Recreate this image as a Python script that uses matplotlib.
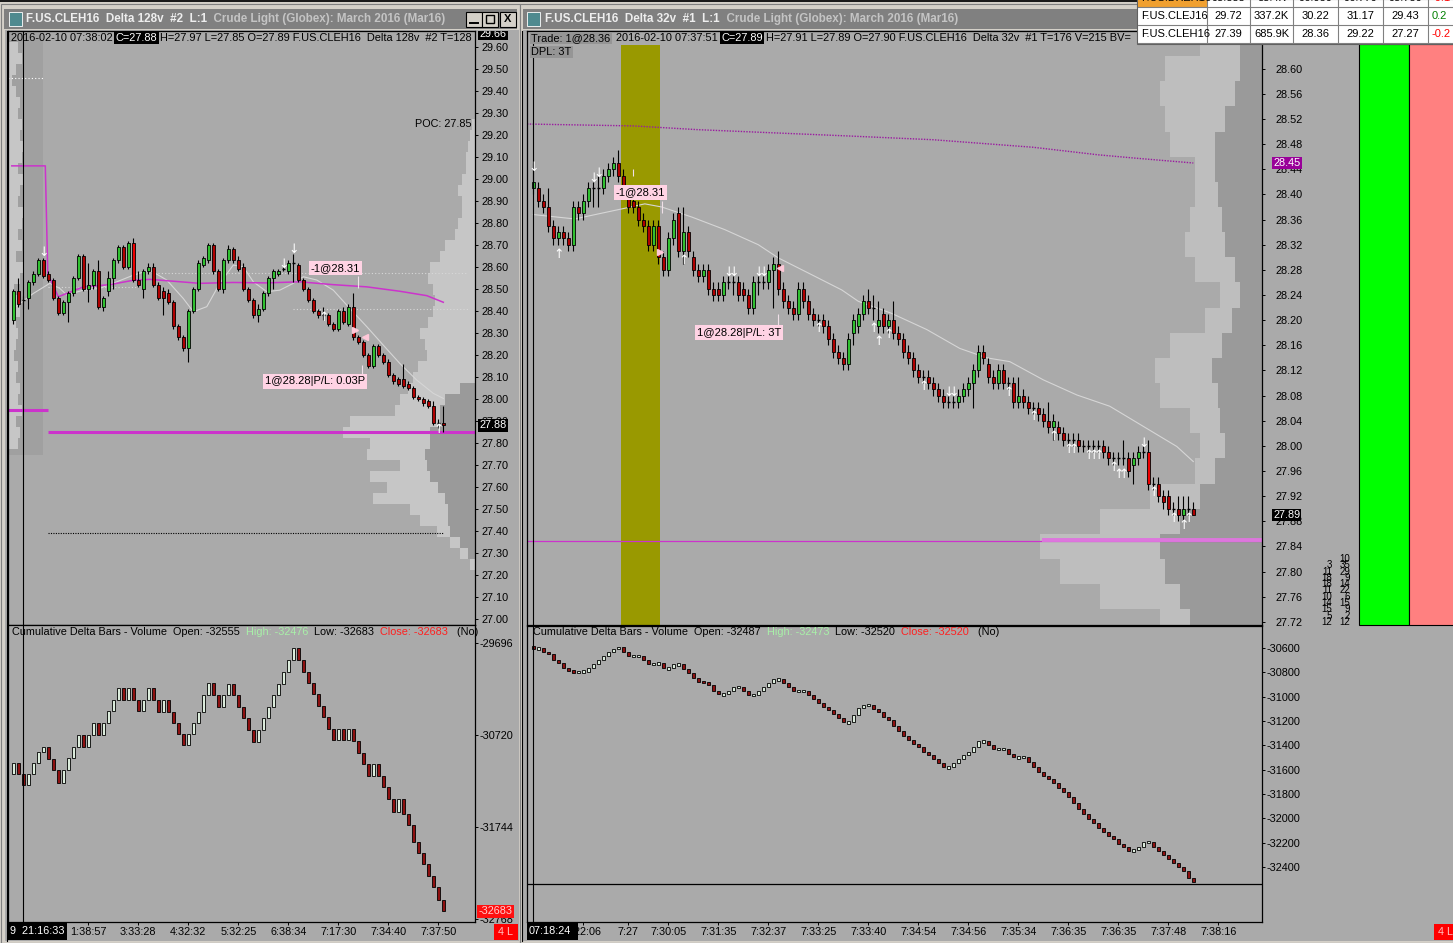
import matplotlib
matplotlib.use('Agg')
import matplotlib.pyplot as plt
from matplotlib.patches import Rectangle
from matplotlib.transforms import Bbox
import numpy as np

plt.rcParams['font.family'] = ['Liberation Sans', 'DejaVu Sans']
plt.rcParams['font.size'] = 7.5

# ------------------------------------------------------------------ data
# left chart (Delta 128v) price bars
L_open = [28.36,28.49,28.45,28.46,28.53,28.57,28.63,28.57,28.54,28.46,
          28.39,28.44,28.48,28.55,28.65,28.50,28.52,28.58,28.42,28.49,
          28.55,28.63,28.69,28.60,28.71,28.54,28.50,28.58,28.60,28.52,
          28.49,28.48,28.44,28.33,28.28,28.23,28.40,28.50,28.61,28.63,
          28.70,28.58,28.50,28.63,28.68,28.63,28.60,28.50,28.45,28.38,
          28.41,28.48,28.55,28.57,28.59,28.58,28.62,28.61,28.54,28.50,
          28.45,28.40,28.38,28.38,28.34,28.32,28.40,28.34,28.42,28.28,
          28.26,28.20,28.15,28.24,28.20,28.17,28.11,28.09,28.09,28.07,
          28.05,28.01,28.00,27.99,27.97,27.89,27.89]
L_close = [28.49,28.43,28.45,28.53,28.57,28.63,28.56,28.54,28.46,28.39,
           28.44,28.48,28.55,28.65,28.50,28.52,28.58,28.42,28.46,28.55,
           28.63,28.69,28.60,28.71,28.54,28.52,28.58,28.60,28.52,28.46,
           28.46,28.44,28.33,28.28,28.23,28.40,28.50,28.62,28.64,28.70,
           28.58,28.50,28.63,28.68,28.63,28.59,28.50,28.45,28.38,28.41,
           28.48,28.55,28.58,28.58,28.59,28.62,28.62,28.54,28.50,28.45,
           28.40,28.38,28.38,28.34,28.32,28.40,28.35,28.42,28.28,28.26,
           28.20,28.15,28.24,28.20,28.17,28.11,28.08,28.07,28.06,28.05,
           28.01,28.00,27.98,27.97,27.89,27.89,27.88]
L_high = [28.50,28.55,28.47,28.54,28.58,28.64,28.64,28.58,28.55,28.47,
          28.45,28.49,28.56,28.66,28.66,28.62,28.59,28.63,28.47,28.58,
          28.64,28.70,28.70,28.72,28.73,28.58,28.59,28.62,28.62,28.53,
          28.51,28.50,28.45,28.34,28.29,28.41,28.51,28.63,28.65,28.71,
          28.71,28.59,28.64,28.70,28.69,28.65,28.62,28.51,28.46,28.43,
          28.49,28.56,28.59,28.59,28.60,28.63,28.66,28.62,28.55,28.51,
          28.46,28.41,28.42,28.39,28.35,28.41,28.42,28.43,28.48,28.29,
          28.27,28.21,28.25,28.25,28.21,28.18,28.12,28.10,28.16,28.08,
          28.06,28.02,28.01,28.00,27.99,27.91,27.97]
L_low = [28.34,28.42,28.41,28.41,28.52,28.56,28.55,28.53,28.45,28.38,
         28.38,28.35,28.47,28.54,28.49,28.44,28.50,28.41,28.40,28.47,
         28.50,28.62,28.59,28.59,28.53,28.51,28.46,28.57,28.51,28.45,
         28.38,28.43,28.32,28.27,28.22,28.17,28.39,28.49,28.60,28.62,
         28.57,28.49,28.48,28.62,28.62,28.58,28.49,28.44,28.37,28.35,
         28.40,28.47,28.50,28.56,28.58,28.57,28.53,28.53,28.49,28.44,
         28.39,28.37,28.36,28.33,28.31,28.31,28.34,28.33,28.27,28.25,
         28.19,28.14,28.14,28.19,28.16,28.10,28.07,28.06,28.05,28.04,
         28.00,27.99,27.97,27.96,27.88,27.87,27.85]

# left cumulative delta closes
L_cd_first_open = -31154
L_cd = [-31028,-31154,-31276,-31154,-31028,-30905,-30850,-30991,-31110,-31250,
        -31110,-30980,-30850,-30720,-30850,-30720,-30590,-30720,-30590,-30449,
        -30330,-30201,-30330,-30201,-30330,-30449,-30330,-30201,-30330,-30460,
        -30330,-30460,-30583,-30709,-30831,-30709,-30583,-30460,-30275,-30145,
        -30275,-30412,-30275,-30152,-30275,-30412,-30534,-30664,-30794,-30664,
        -30534,-30412,-30275,-30152,-30015,-29885,-29755,-29885,-30015,-30145,
        -30264,-30397,-30523,-30657,-30776,-30657,-30776,-30657,-30783,-30917,
        -31043,-31176,-31043,-31176,-31302,-31436,-31573,-31436,-31599,-31722,
        -31907,-32037,-32159,-32289,-32408,-32555,-32683]

# left chart lines
L_vwap_x = [-0.3, 6.4, 6.9, 9, 14, 19.3, 24, 27.3, 30.7, 37.3, 44, 50.7, 57.3, 64, 70.7, 77.3, 82.7, 86]
L_vwap_y = [29.06, 29.06, 28.57, 28.465, 28.51, 28.52, 28.54, 28.544, 28.538, 28.526, 28.53,
            28.528, 28.533, 28.52, 28.51, 28.49, 28.47, 28.44]
L_ma_x = [0,4,7.3,9.3,10.7,14,17.3,20.7,24,27.3,30.7,34,36,38.7,41.3,44,46,48,50.7,53.3,56,58,60.7,64,
          67.3,70.7,74,77.3,80.7,84,86]
L_ma_y = [28.412,28.480,28.526,28.503,28.473,28.495,28.503,28.533,28.563,28.586,28.541,28.457,28.397,
          28.420,28.526,28.609,28.601,28.533,28.488,28.495,28.526,28.556,28.541,28.495,28.412,28.329,
          28.245,28.162,28.086,28.026,28.003]
L_dn_arrows = [(6, 28.664), (54, 28.61), (56, 28.68)]
L_up_arrows = [(62, 28.37), (85, 27.86)]

# left volume profiles (price levels, volumes)
LP_price = [29.25,29.20,29.15,29.10,29.05,29.00,28.95,28.90,28.85,28.80,28.75,28.70,28.65,28.60,
            28.55,28.50,28.45,28.40,28.35,28.30,28.25,28.20,28.15,28.10,28.05,28.00,27.95,27.90,
            27.85,27.80,27.75,27.70,27.65,27.60,27.55,27.50,27.45,27.40,27.35,27.30,27.25]
LP_total = [3,5,7,9,9,13,17,13,13,17,20,30,35,45,47,42,40,42,47,55,50,48,57,62,67,75,80,125,
            132,105,108,75,105,88,102,65,55,38,25,15,5]
LP_side = [0,0,0,0,0,0,0,0,0,0,0,0,0,0,0,0,0,0,0,0,0,0,0,0,15,30,35,35,45,45,50,48,45,37,30,
           27,27,25,15,7,0]
LS_price = [29.60,29.55,29.50,29.45,29.40,29.35,29.30,29.25,29.20,29.15,29.10,29.05,29.00,28.95,
            28.90,28.85,28.80,28.75,28.70,28.65,28.60,28.55,28.50,28.45,28.40,28.35,28.30,28.25,
            28.20,28.15,28.10,28.05,28.00,27.95,27.90,27.85,27.80]
LS_vol = [10,14,8,4,8,12,10,14,12,15,14,10,15,12,10,16,14,10,14,8,16,12,6,10,12,8,10,8,6,10,8,
          12,10,14,8,12,10]

L_times = ['21:16:33', '1:38:57', '3:33:28', '4:32:32', '5:32:25', '6:38:34', '7:17:30', '7:34:40', '7:37:50']
L_time_bars = [7, 15, 25, 35, 45, 55, 65, 75, 85]

# right chart (Delta 32v) price bars
R_open = [28.41,28.41,28.39,28.38,28.35,28.33,28.34,28.33,28.32,28.38,
          28.37,28.39,28.41,28.41,28.41,28.43,28.44,28.45,28.43,28.40,
          28.39,28.38,28.36,28.35,28.32,28.35,28.30,28.28,28.33,28.37,
          28.31,28.34,28.30,28.28,28.27,28.28,28.25,28.25,28.24,28.26,
          28.26,28.26,28.25,28.24,28.22,28.26,28.26,28.26,28.28,28.29,
          28.25,28.23,28.22,28.21,28.25,28.23,28.21,28.20,28.20,28.19,
          28.17,28.15,28.14,28.13,28.18,28.19,28.21,28.23,28.22,28.19,
          28.21,28.19,28.20,28.18,28.17,28.15,28.14,28.12,28.11,28.11,
          28.10,28.09,28.08,28.07,28.07,28.07,28.08,28.09,28.10,28.12,
          28.15,28.13,28.11,28.10,28.12,28.10,28.10,28.07,28.08,28.07,
          28.06,28.06,28.05,28.04,28.03,28.03,28.02,28.01,28.01,28.01,
          28.00,28.00,28.00,28.00,28.00,27.99,27.98,27.98,27.98,27.98,
          27.97,27.98,27.99,27.99,27.94,27.94,27.92,27.92,27.90,27.90,
          27.89,27.90,27.90]
R_close = [28.42,28.39,28.38,28.35,28.33,28.34,28.33,28.32,28.38,28.37,
           28.39,28.41,28.41,28.41,28.43,28.44,28.45,28.43,28.415,28.38,
           28.38,28.36,28.35,28.32,28.35,28.30,28.28,28.33,28.36,28.31,
           28.34,28.31,28.28,28.27,28.28,28.25,28.24,28.24,28.26,28.26,
           28.26,28.24,28.24,28.22,28.26,28.26,28.26,28.28,28.29,28.25,
           28.23,28.22,28.21,28.25,28.23,28.21,28.20,28.20,28.19,28.17,
           28.15,28.14,28.13,28.17,28.20,28.21,28.23,28.22,28.22,28.20,
           28.19,28.20,28.18,28.17,28.15,28.14,28.12,28.11,28.11,28.10,
           28.09,28.08,28.07,28.07,28.07,28.08,28.09,28.10,28.12,28.15,
           28.14,28.11,28.10,28.12,28.10,28.10,28.07,28.08,28.07,28.06,
           28.06,28.05,28.04,28.03,28.04,28.02,28.01,28.01,28.01,28.00,
           28.00,28.00,28.00,28.00,27.99,27.98,27.98,27.98,27.98,27.96,
           27.98,27.99,27.99,27.94,27.94,27.92,27.91,27.90,27.90,27.89,
           27.90,27.90,27.89]
R_high = [28.45,28.42,28.40,28.41,28.36,28.35,28.35,28.34,28.39,28.39,
          28.40,28.42,28.42,28.43,28.44,28.45,28.46,28.47,28.44,28.41,
          28.40,28.39,28.37,28.36,28.36,28.36,28.31,28.34,28.37,28.38,
          28.38,28.35,28.31,28.29,28.29,28.29,28.26,28.26,28.27,28.27,
          28.27,28.27,28.26,28.25,28.27,28.27,28.27,28.29,28.30,28.31,
          28.26,28.24,28.23,28.26,28.26,28.24,28.22,28.21,28.21,28.20,
          28.18,28.16,28.15,28.18,28.21,28.22,28.24,28.25,28.24,28.23,
          28.22,28.21,28.23,28.19,28.18,28.16,28.15,28.13,28.12,28.12,
          28.11,28.10,28.09,28.08,28.08,28.09,28.10,28.11,28.13,28.16,
          28.16,28.14,28.12,28.13,28.13,28.11,28.11,28.11,28.09,28.08,
          28.07,28.07,28.06,28.07,28.05,28.04,28.03,28.02,28.02,28.02,
          28.01,28.01,28.01,28.01,28.01,28.00,27.99,27.99,28.01,27.99,
          27.99,28.00,28.00,28.01,27.95,27.95,27.93,27.93,27.91,27.92,
          27.92,27.92,27.91]
R_low = [28.40,28.38,28.37,28.34,28.32,28.32,28.32,28.31,28.31,28.36,
         28.36,28.38,28.38,28.38,28.40,28.42,28.43,28.42,28.40,28.37,
         28.37,28.35,28.34,28.31,28.31,28.29,28.27,28.27,28.32,28.30,
         28.29,28.30,28.27,28.26,28.26,28.24,28.23,28.23,28.23,28.25,
         28.24,28.23,28.23,28.21,28.21,28.24,28.25,28.25,28.22,28.24,
         28.22,28.21,28.20,28.20,28.22,28.20,28.19,28.19,28.18,28.16,
         28.14,28.13,28.12,28.12,28.16,28.18,28.20,28.21,28.20,28.18,
         28.18,28.18,28.17,28.16,28.14,28.13,28.11,28.10,28.10,28.09,
         28.08,28.07,28.06,28.06,28.06,28.06,28.07,28.08,28.06,28.11,
         28.13,28.10,28.09,28.09,28.09,28.09,28.06,28.06,28.06,28.05,
         28.05,28.04,28.03,28.02,28.01,28.01,28.00,28.00,28.00,27.99,
         27.99,27.99,27.99,27.99,27.98,27.97,27.97,27.97,27.97,27.95,
         27.94,27.97,27.98,27.93,27.93,27.91,27.90,27.89,27.89,27.88,
         27.88,27.89,27.89]

# right cumulative delta closes
R_cd_first_open = -30590
R_cd = [-30603,-30603,-30630,-30652,-30699,-30721,-30767,-30789,-30800,-30795,
        -30795,-30762,-30734,-30699,-30666,-30633,-30606,-30595,-30630,-30666,
        -30666,-30663,-30699,-30732,-30732,-30726,-30767,-30767,-30734,-30734,
        -30775,-30808,-30844,-30877,-30880,-30904,-30954,-30981,-30981,-30951,
        -30923,-30918,-30954,-30986,-30986,-30951,-30918,-30891,-30858,-30858,
        -30891,-30923,-30954,-30954,-30954,-30986,-31019,-31050,-31082,-31110,
        -31145,-31178,-31211,-31211,-31151,-31096,-31069,-31069,-31102,-31129,
        -31165,-31192,-31239,-31280,-31321,-31356,-31389,-31417,-31452,-31480,
        -31515,-31548,-31581,-31581,-31548,-31513,-31480,-31452,-31411,-31367,
        -31367,-31398,-31430,-31430,-31430,-31471,-31499,-31499,-31493,-31535,
        -31576,-31617,-31650,-31680,-31713,-31748,-31781,-31828,-31877,-31924,
        -31967,-32009,-32041,-32077,-32110,-32143,-32173,-32209,-32233,-32266,
        -32261,-32233,-32198,-32192,-32233,-32266,-32302,-32332,-32365,-32398,
        -32430,-32487,-32520]

R_ma_x = [0, 8.3, 18.3, 22.3, 25.7, 31.7, 38.3, 45, 49, 55, 61.7, 65, 71.6, 78.7, 85.3, 90.7, 95.3,
          102, 108.7, 115.3, 122, 128.7, 132]
R_ma_y = [28.368, 28.361, 28.378, 28.385, 28.38, 28.364, 28.344, 28.32, 28.299, 28.275, 28.248, 28.23,
          28.211, 28.185, 28.155, 28.14, 28.134, 28.105, 28.081, 28.063, 28.031, 27.999, 27.975]
R_vwap_x = [-1.26, 20, 33, 63, 80, 100, 113, 120, 132]
R_vwap_y = [28.512, 28.509, 28.503, 28.493, 28.487, 28.475, 28.463, 28.458, 28.45]
R_dn_arrows = [(0, 28.443), (12, 28.426), (13, 28.434), (39, 28.275), (40, 28.275), (45, 28.275),
               (46, 28.275), (83, 28.085), (84, 28.085), (122, 28.004)]
R_up_arrows = [(5, 28.304), (30, 28.295), (57, 28.186), (68, 28.186), (69, 28.166), (71, 28.177),
               (78, 28.095), (95, 28.085), (100, 28.046), (104, 28.015), (107, 27.994), (108, 27.994),
               (111, 27.985), (112, 27.985), (113, 27.985), (116, 27.965), (117, 27.955), (118, 27.955),
               (124, 27.925), (128, 27.885), (130, 27.874), (131, 27.885)]

RP_price = [28.64,28.60,28.56,28.52,28.48,28.44,28.40,28.36,28.32,28.28,28.24,28.20,
            28.16,28.12,28.08,28.04,28.00,27.96,27.92,27.88,27.84,27.80,27.76,27.72]
RP_total = [62,97,102,97,92,67,67,72,77,67,42,57,92,107,102,72,62,67,112,162,222,202,162,102]
RP_side = [22,22,27,37,47,47,44,40,37,27,22,30,40,50,44,42,37,47,62,82,102,97,82,72]

R_vol_col1_price = [27.81,27.80,27.79,27.78,27.77,27.76,27.75,27.74,27.73,27.72]
R_vol_col1 = [3,11,18,18,11,10,14,15,5,12]
R_vol_col2_price = [27.82,27.81,27.80,27.79,27.78,27.77,27.76,27.75,27.74,27.73,27.72]
R_vol_col2 = [10,35,29,9,14,22,6,15,9,2,12]

R_times = ['7:22:06', '7:27', '7:30:05', '7:31:35', '7:32:37', '7:33:25', '7:33:40', '7:34:54',
           '7:34:56', '7:35:34', '7:36:35', '7:36:35', '7:37:48', '7:38:16']
R_time_bars = [10, 19, 27, 37, 47, 57, 67, 77, 87, 97, 107, 117, 127, 137]

TABLE_ROWS = [["F.US.DXEH16", "95.855", "35.4K", "96.030", "96.770", "95.780", "-0.1"],
              ["F.US.CLEJ16", "29.72", "337.2K", "30.22", "31.17", "29.43", "0.2"],
              ["F.US.CLEH16", "27.39", "685.9K", "28.36", "29.22", "27.27", "-0.2"]]

# ------------------------------------------------------------------ figure
W, H = 1453, 943
BG = '#aaaaaa'
FRAME = '#d4d0c8'
fig = plt.figure(figsize=(W / 100, H / 100), dpi=100, facecolor=FRAME)
REND = fig.canvas.get_renderer()


def px_axes(x0, y0, x1, y1, z=1):
    return fig.add_axes([x0 / W, 1 - y1 / H, (x1 - x0) / W, (y1 - y0) / H], zorder=z)


def pixel_layer(z):
    a = fig.add_axes([0, 0, 1, 1], zorder=z)
    a.set_xlim(0, W)
    a.set_ylim(H, 0)
    a.axis('off')
    a.patch.set_alpha(0)
    return a


def rect(ax, x0, y0, x1, y1, fc, ec='none', lw=0, z=1):
    ax.add_patch(Rectangle((x0, y0), x1 - x0, y1 - y0, fc=fc, ec=ec, lw=lw, zorder=z))


def clipbox(x0, y0, x1, y1):
    return Bbox.from_extents(x0, H - y1, x1, H - y0)


def chain(ax, x, y, parts, size=7.5, weight='normal', clip=None):
    for s, col, bgc in parts:
        kw = {}
        if bgc is not None:
            kw['bbox'] = dict(boxstyle='square,pad=0.12', fc=bgc, ec='none')
        t = ax.text(x, y, s, color=col, fontsize=size, fontweight=weight,
                    ha='left', va='center', zorder=30, **kw)
        if clip is not None:
            t.set_clip_box(clip)
            t.set_clip_on(True)
        bb = t.get_window_extent(REND)
        x = bb.x1
    return x


bg = pixel_layer(0)
ov = pixel_layer(20)

# window chrome
rect(bg, 0, 0, 1140, 2, '#1a1a1a')
rect(bg, 1, 4, 520, 943, FRAME, ec='#808080', lw=0.8)
rect(bg, 4, 9, 517, 29, '#808080')
rect(bg, 9, 12, 22, 26, '#4f8a8f', ec='white', lw=0.6)
rect(bg, 5, 30, 519, 941, BG)
rect(bg, 520, 4, W, 943, FRAME, ec='#808080', lw=0.8)
rect(bg, 523, 9, W, 29, '#808080')
rect(bg, 527, 12, 540, 26, '#4f8a8f', ec='white', lw=0.6)
rect(bg, 523, 30, W, 941, BG)
bg.plot([6.5, 6.5], [31, 941], color='black', lw=0.8, zorder=3)
bg.plot([522, 522], [31, 941], color='black', lw=0.8, zorder=3)
for bx0 in (466, 482, 500):
    rect(bg, bx0, 12, bx0 + 16, 27, FRAME, ec='black', lw=0.8, z=2)
bg.plot([470, 478], [23, 23], color='black', lw=1.4, zorder=3)
rect(bg, 486, 15, 494, 23, 'none', ec='black', lw=1.0, z=3)
bg.text(508, 19.5, 'X', fontsize=8, fontweight='bold', ha='center', va='center', zorder=3)
# green/red side bars
rect(bg, 1359, 44, 1409, 625, '#00ff00', ec='black', lw=0.8, z=2)
rect(bg, 1409, 44, W + 2, 625, '#ff8080', ec='black', lw=0.8, z=2)

chain(bg, 26, 19, [('F.US.CLEH16  Delta 128v  #2  L:1', '#eeeeee', None),
                   ('  Crude Light (Globex): March 2016 (Mar16)', '#c4c4c4', None)],
      size=8.4, weight='bold')
chain(bg, 545, 19, [('F.US.CLEH16  Delta 32v  #1  L:1', '#eeeeee', None),
                    ('  Crude Light (Globex): March 2016 (Mar16)', '#c4c4c4', None)],
      size=8.4, weight='bold')

# data axes
ax1 = px_axes(8, 31, 475, 625, 2)
ax2 = px_axes(8, 625, 475, 922, 2)
ax3 = px_axes(527, 31, 1262, 625, 2)
ax4 = px_axes(527, 626, 1262, 922, 2)

ax1.set_xlim(-1.06, 92.34); ax1.set_ylim(26.973, 29.673)
ax2.set_xlim(-1.06, 92.34); ax2.set_ylim(-32801, -29496)
ax3.set_xlim(-1.26, 145.74); ax3.set_ylim(27.715, 28.660)
ax4.set_xlim(-1.26, 145.74); ax4.set_ylim(-32852, -30419)

for ax in (ax1, ax2, ax3, ax4):
    ax.set_facecolor(BG)
    for s in ax.spines.values():
        s.set_color('black')
        s.set_linewidth(0.9)
    ax.yaxis.tick_right()
    ax.tick_params(axis='y', direction='out', length=2.2, width=0.7, colors='black', labelsize=7.8)
ax1.set_xticks([]); ax3.set_xticks([])
ax1.tick_params(axis='y', pad=2.2)
ax3.tick_params(axis='y', pad=7.5)
ax2.tick_params(axis='y', pad=0.8)
ax4.tick_params(axis='y', pad=0.8)

lt = [round(27.0 + 0.1 * k, 2) for k in range(27)]
ax1.set_yticks(lt); ax1.set_yticklabels(['%.2f' % v for v in lt])
rt = [round(27.72 + 0.04 * k, 2) for k in range(23)]
ax3.set_yticks(rt); ax3.set_yticklabels(['%.2f' % v for v in rt])
l2 = [-29696, -30720, -31744, -32768]
ax2.set_yticks(l2); ax2.set_yticklabels([str(v) for v in l2])
r4 = list(range(-30600, -32401, -200))
ax4.set_yticks(r4); ax4.set_yticklabels([str(v) for v in r4])

ax2.set_xticks(L_time_bars); ax2.set_xticklabels([''] + L_times[1:])
ax4.set_xticks(R_time_bars); ax4.set_xticklabels(R_times)
for ax in (ax2, ax4):
    ax.tick_params(axis='x', direction='out', length=2.5, width=0.7, pad=1.2, labelsize=7.8)


def draw_candles(ax, o, c, h, l, up='#30c030', dn='#b00000', hl=(), hl_col='#ee0000', w=0.62):
    x = np.arange(len(o))
    ax.vlines(x, l, h, color='black', lw=0.8, zorder=4)
    for i in x:
        if abs(c[i] - o[i]) < 1e-9:
            ax.hlines(c[i], i - w / 2, i + w / 2, color='black', lw=1.0, zorder=5)
        else:
            fc = up if c[i] > o[i] else dn
            if i in hl:
                fc = hl_col
            ax.add_patch(Rectangle((i - w / 2, min(o[i], c[i])), w, abs(c[i] - o[i]),
                                   fc=fc, ec='black', lw=0.6, zorder=5))


def draw_cd(ax, closes, first_open, minh, up='#dcecdc', dn='#8e1010', w=0.6):
    opens = [first_open] + list(closes[:-1])
    for i, (o, c) in enumerate(zip(opens, closes)):
        lo, hi = min(o, c), max(o, c)
        if hi - lo < minh:
            mid = (hi + lo) / 2
            lo, hi = mid - minh / 2, mid + minh / 2
        fc = up if c >= o else dn
        ax.add_patch(Rectangle((i - w / 2, lo), w, hi - lo, fc=fc, ec='black', lw=0.6, zorder=5))


def arrows(ax, pts, glyph):
    for i, p in pts:
        ax.text(i, p, glyph, color='white', fontsize=9, family='DejaVu Sans',
                ha='center', va='center', zorder=7)


# ---------------- left price chart
x0l, x1l = ax1.get_xlim()
ax1.axvspan(x0l, 5.94, ymin=0.286, ymax=1, color='#a0a0a0', lw=0, zorder=0.5)
ax1.barh(LS_price, np.array(LS_vol) / 5, left=x0l, height=0.05, color='#c6c6c6', lw=0, zorder=0.8)
lp_t = np.array(LP_total) / 5
lp_s = np.array(LP_side) / 5
ax1.barh(LP_price, lp_t, left=x1l - lp_t, height=0.05, color='#c6c6c6', lw=0, zorder=0.8)
ax1.barh(LP_price, lp_s, left=x1l - lp_s, height=0.05, color='#9a9a9a', lw=0, zorder=0.9)
ax1.hlines(29.46, x0l, 5.94, colors='white', linestyles=(0, (1, 2)), lw=0.8, zorder=1)
ax1.hlines(28.574, 27, 91, colors='#d8d8d8', linestyles=(0, (1, 2)), lw=0.8, zorder=1)
ax1.hlines(28.51, 7, 25, colors='#d8d8d8', linestyles=(0, (1, 2)), lw=0.8, zorder=1)
ax1.hlines(28.41, 56, 91, colors='#d8d8d8', linestyles=(0, (1, 2)), lw=0.8, zorder=1)
ax1.hlines(27.39, 7, 86, colors='black', linestyles=(0, (1, 1.2)), lw=0.8, zorder=1)
ax1.hlines(27.85, 7, x1l, colors='#cc33cc', lw=2.2, zorder=2)
ax1.hlines(27.95, x0l, 7, colors='#cc33cc', lw=2.2, zorder=2)
ax1.plot(L_ma_x, L_ma_y, color='#d6d6d6', lw=0.8, zorder=3)
ax1.plot(L_vwap_x, L_vwap_y, color='#cc33cc', lw=1.1, zorder=3)
ax1.axvline(2, color='black', lw=0.8, zorder=6)
draw_candles(ax1, L_open, L_close, L_high, L_low, hl=(24,))
arrows(ax1, L_dn_arrows, '↓')
arrows(ax1, L_up_arrows, '↑')
ax1.text(59.5, 28.595, '-1@28.31', fontsize=8, ha='left', va='center', zorder=8,
         bbox=dict(boxstyle='square,pad=0.2', fc='#ffd3e4', ec='none'))
ax1.text(50.3, 28.08, '1@28.28|P/L: 0.03P', fontsize=8, ha='left', va='center', zorder=8,
         bbox=dict(boxstyle='square,pad=0.2', fc='#ffd3e4', ec='none'))
ax1.vlines(69, 28.505, 28.56, colors='#f0e0e8', lw=0.8, zorder=7)
ax1.vlines(69.7, 28.11, 28.155, colors='#f0e0e8', lw=0.8, zorder=7)
ax1.plot([68.4], [28.315], marker='>', ms=4, color='#ffc8d8', zorder=7)
ax1.plot([70.4], [28.28], marker='<', ms=4, color='#ffc8d8', zorder=7)
ax1.text(91.7, 29.25, 'POC: 27.85', fontsize=7.8, ha='right', va='center', zorder=7)

# ---------------- left delta
ax2.axvline(2, color='black', lw=0.8, zorder=6)
draw_cd(ax2, L_cd, L_cd_first_open, 30)

# ---------------- right price chart
x0r, x1r = ax3.get_xlim()
rp_t = np.array(RP_total) / 5
rp_s = np.array(RP_side) / 5
ax3.barh(RP_price, rp_t, left=x1r - rp_t, height=0.04, color='#bebebe', lw=0, zorder=0.8)
ax3.barh(RP_price, rp_s, left=x1r - rp_s, height=0.04, color='#9a9a9a', lw=0, zorder=0.9)
ax3.axvspan(17.54, 25.34, ymin=0, ymax=0.976, color='#999900', lw=0, zorder=1)
ax3.plot(R_vwap_x, R_vwap_y, color='#9a1aa0', lw=1.0, ls=(0, (1, 1)), zorder=2)
ax3.hlines(27.849, x0r, x1r, colors='#cc33cc', lw=0.9, zorder=2)
ax3.hlines(27.851, 101.7, x1r, colors='#dd77dd', lw=2.8, zorder=2)
ax3.plot(R_ma_x, R_ma_y, color='#d6d6d6', lw=0.8, zorder=3)
ax3.axvline(0, color='black', lw=0.8, zorder=6)
draw_candles(ax3, R_open, R_close, R_high, R_low, hl=(123,))
arrows(ax3, R_dn_arrows, '↓')
arrows(ax3, R_up_arrows, '↑')
ax3.text(16.5, 28.403, '-1@28.31', fontsize=8, ha='left', va='center', zorder=8,
         bbox=dict(boxstyle='square,pad=0.2', fc='#ffd3e4', ec='none'))
ax3.text(32.7, 28.18, '1@28.28|P/L: 3T', fontsize=8, ha='left', va='center', zorder=8,
         bbox=dict(boxstyle='square,pad=0.2', fc='#ffd3e4', ec='none'))
ax3.vlines(25.7, 28.37, 28.39, colors='#f0e0e8', lw=0.8, zorder=7)
ax3.vlines(20, 28.43, 28.44, colors='#f0e0e8', lw=0.8, zorder=7)
ax3.vlines(49, 28.19, 28.21, colors='#f0e0e8', lw=0.8, zorder=7)
ax3.plot([25.4], [28.309], marker='>', ms=4, color='#ffc8d8', zorder=7)
ax3.plot([49.4], [28.283], marker='<', ms=4, color='#ffc8d8', zorder=7)
ytr = ax3.get_yaxis_transform()
for p, v in zip(R_vol_col1_price, R_vol_col1):
    ax3.text(1.0952, p, str(v), transform=ytr, fontsize=7, ha='right', va='center', clip_on=False)
for p, v in zip(R_vol_col2_price, R_vol_col2):
    ax3.text(1.1197, p, str(v), transform=ytr, fontsize=7, ha='right', va='center', clip_on=False)

# ---------------- right delta
ax4.axvline(0, color='black', lw=0.8, zorder=6)
ax4.axhline(-32540, color='black', lw=0.9, zorder=6)
draw_cd(ax4, R_cd, R_cd_first_open, 22)

# ---------------- axis value boxes
def value_box(ax, xfrac, val, txt, fc, tc='white'):
    ax.text(xfrac, val, txt, transform=ax.get_yaxis_transform(), fontsize=7.8, color=tc,
            ha='left', va='center', clip_on=False, zorder=25,
            bbox=dict(boxstyle='square,pad=0.12', fc=fc, ec='none'))

value_box(ax1, 1.009, 27.88, '27.88', 'black')
t = ax1.text(1.009, 29.66, '29.66', transform=ax1.get_yaxis_transform(), fontsize=7.8, color='white',
             ha='left', va='center', zorder=25, bbox=dict(boxstyle='square,pad=0.12', fc='black', ec='none'))
t.set_clip_box(clipbox(470, 31, 520, 60)); t.set_clip_on(True)
value_box(ax2, 1.007, -32683, '-32683', '#ff1010', tc='#ffd0d0')
value_box(ax3, 1.015, 28.45, '28.45', '#990099')
value_box(ax3, 1.015, 27.89, '27.89', 'black')

# ---------------- header texts
chain(ov, 11, 38, [('2016-02-10 07:38:02 ', 'black', None), ('C=27.88', 'white', 'black'),
                   (' H=27.97 L=27.85 O=27.89 F.US.CLEH16  Delta 128v  #2 T=128', 'black', None)],
      size=7.9, clip=clipbox(8, 31, 475, 46))
xh = chain(ov, 531, 38, [('Trade: 1@28.36', 'black', '#959595')], size=7.9)
chain(ov, xh + 6, 38, [('2016-02-10 07:37:51 ', 'black', None), ('C=27.89', 'white', 'black'),
                       (' H=27.91 L=27.89 O=27.90 F.US.CLEH16  Delta 32v  #1 T=176 V=215 BV=', 'black', None)],
      size=7.9, clip=clipbox(527, 31, 1262, 46))
chain(ov, 531, 52, [('DPL: 3T', 'black', '#959595')], size=7.9)

chain(ov, 12, 632, [('Cumulative Delta Bars - Volume  Open: -32555', 'black', None),
                    ('  High: -32476', '#a8f0a8', None), ('  Low: -32683', 'black', None),
                    ('  Close: -32683', '#ff2020', None), ('   (No)', 'black', None)], size=7.8)
chain(ov, 533, 632, [('Cumulative Delta Bars - Volume  Open: -32487', 'black', None),
                     ('  High: -32473', '#a8f0a8', None), ('  Low: -32520', 'black', None),
                     ('  Close: -32520', '#ff2020', None), ('   (No)', 'black', None)], size=7.8)

# time axis boxes
rect(ov, 8, 923, 67, 940, 'black', z=25)
ov.text(10, 931.5, '9  21:16:33', color='white', fontsize=7.8, ha='left', va='center', zorder=26)
rect(ov, 527, 923, 578, 940, 'black', z=25)
ov.text(529, 931.5, '07:18:24', color='white', fontsize=7.8, ha='left', va='center', zorder=26)
rect(ov, 494, 924, 518, 940, '#ff0000', z=25)
ov.text(506, 932, '4 L', color='#ffc0c0', fontsize=7.8, ha='center', va='center', zorder=26)
rect(ov, 1434, 924, W, 940, '#ff0000', z=25)
ov.text(1446, 932, '4 L', color='#ffc0c0', fontsize=7.8, ha='center', va='center', zorder=26)

# quote table
tab_x = [1138, 1207, 1250, 1293, 1338, 1383, 1428, 1475]
tab_y = [-11, 7, 25, 43]
rect(ov, 1137, -1, W + 2, 44, 'white', ec='#606060', lw=0.8, z=25)
rect(ov, 1138, -11, 1207, 7, '#f0a030', z=25)
for xv in tab_x[1:-1]:
    ov.plot([xv, xv], [0, 43], color='#808080', lw=0.8, zorder=26)
for yv in tab_y[1:]:
    ov.plot([1138, W], [yv, yv], color='#808080', lw=0.8, zorder=26)
for r, row in enumerate(TABLE_ROWS):
    yc = (tab_y[r] + tab_y[r + 1]) / 2
    for cidx, val in enumerate(row):
        col = 'black'
        if cidx == 6:
            col = '#008000' if not val.startswith('-') else '#ff0000'
        if cidx == 0:
            ov.text(tab_x[0] + 3, yc, val, fontsize=8, color=col, ha='left', va='center', zorder=27)
        else:
            ov.text((tab_x[cidx] + tab_x[cidx + 1]) / 2 if cidx < 6 else tab_x[cidx] + 4, yc, val,
                    fontsize=8, color=col, ha='center' if cidx < 6 else 'left', va='center', zorder=27)

fig.savefig('out.png', dpi=100, facecolor=FRAME)
